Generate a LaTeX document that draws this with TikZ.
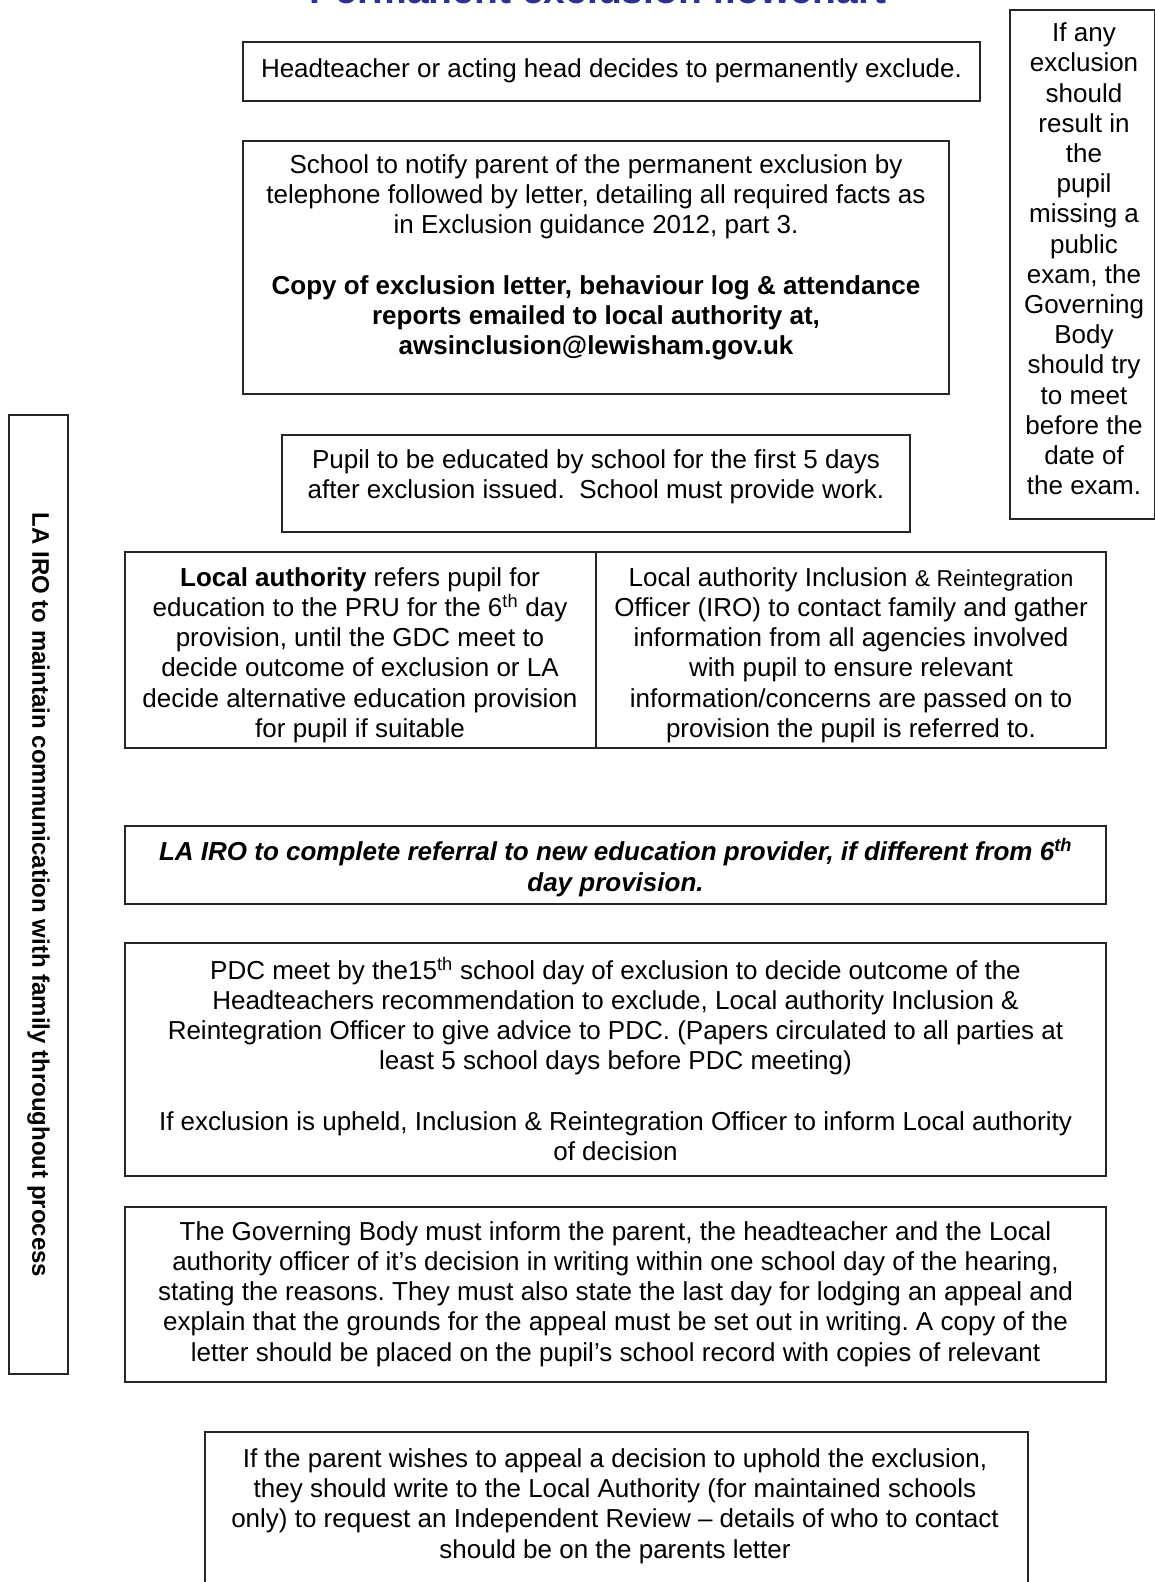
\documentclass[tikz,border=0pt]{standalone}
\usepackage{fontspec}
\setmainfont{Liberation Sans}
\usepackage{xcolor}
\usepackage{tikz}
\usetikzlibrary{positioning}

\definecolor{titleblue}{RGB}{46,49,146}
\newcommand{\bodysize}{\fontsize{26}{30.2}\selectfont}
\frenchspacing

\begin{document}
\begin{tikzpicture}[x=1pt, y=-1pt, inner sep=0pt,
  box/.style={draw=black!85, line width=1.5pt, outer sep=0pt, rectangle},
  txt/.style={align=center, font=\bodysize}]

\useasboundingbox (0,0) rectangle (1155,1582);
\fill[white] (0,0) rectangle (1155,1582);
\clip (0,0) rectangle (1155,1582);

\node[font=\fontsize{39}{44}\selectfont\bfseries, text=titleblue, anchor=base] (title) at (598,4) {Permanent exclusion flowchart};

\node[box, minimum width=737pt, minimum height=59pt] (head) at (611.5,71.5) {};
\node[box, minimum width=706pt, minimum height=253pt] (notify) at (596,267.5) {};
\node[box, minimum width=145pt, minimum height=509pt] (exam) at (1082.5,264.5) {};
\node[box, minimum width=59pt, minimum height=959pt] (comm) at (38.5,894.5) {};
\node[box, minimum width=628pt, minimum height=97pt] (educ) at (596,483.5) {};
\node[box, minimum width=471pt, minimum height=196pt] (laref) at (360.5,650) {};
\node[box, minimum width=510pt, minimum height=196pt] (iro) [right=0pt of laref] {};
\node[box, minimum width=981pt, minimum height=78pt] (refer) at (615.5,865) {};
\node[box, minimum width=981pt, minimum height=233pt] (pdc) at (615.5,1059.5) {};
\node[box, minimum width=981pt, minimum height=175pt] (gov) at (615.5,1294.5) {};
\node[box, minimum width=823pt, minimum height=200pt] (appeal) at (616.5,1532) {};

\node[txt] (headtxt) at (611.5,71) {Headteacher or acting head decides to permanently exclude.};

\node[txt] (notifytxt) at (596,257.5) {School to notify parent of the permanent exclusion by\\
telephone followed by letter, detailing all required facts as\\
in Exclusion guidance 2012, part 3.\\[30.2pt]
\bfseries Copy of exclusion letter, behaviour log \& attendance\\
\bfseries reports emailed to local authority at,\\
\bfseries awsinclusion@lewisham.gov.uk};

\node[txt] (examtxt) at (1084,259) {If any\\exclusion\\should\\result in\\the\\pupil\\missing a\\public\\exam, the\\Governing\\Body\\should try\\to meet\\before the\\date of\\the exam.};

\node[txt, font=\fontsize{24}{28}\selectfont\bfseries, rotate=-90] (commtxt) at (38.5,895) {LA IRO to maintain communication with family throughout process};

\node[txt] (eductxt) at (596,477) {Pupil to be educated by school for the first 5 days\\
after exclusion issued.\ \ School must provide work.};

\node[txt] (lareftxt) at (360,655) {{\bfseries Local authority} refers pupil for\\
education to the PRU for the 6\textsuperscript{th} day\\
provision, until the GDC meet to\\
decide outcome of exclusion or LA\\
decide alternative education provision\\
for pupil if suitable};

\node[txt] (irotxt) at (851,655) {Local authority Inclusion {\fontsize{23}{30.2}\selectfont\& Reintegration}\\
Officer (IRO) to contact family and gather\\
information from all agencies involved\\
with pupil to ensure relevant\\
information/concerns are passed on to\\
provision the pupil is referred to.};

\node[txt, font=\bodysize\bfseries\itshape] (refertxt) at (615.5,867.5) {LA IRO to complete referral to new education provider, if different from 6\textsuperscript{th}\\
day provision.};

\node[txt] (pdctxt) at (615.5,1059) {PDC meet by the15\textsuperscript{th} school day of exclusion to decide outcome of the\\
Headteachers recommendation to exclude, Local authority Inclusion \&\\
Reintegration Officer to give advice to PDC. (Papers circulated to all parties at\\
least 5 school days before PDC meeting)\\[30.2pt]
If exclusion is upheld, Inclusion \& Reintegration Officer to inform Local authority\\
of decision};

\node[txt] (govtxt) at (615.5,1294) {The Governing Body must inform the parent, the headteacher and the Local\\
authority officer of it’s decision in writing within one school day of the hearing,\\
stating the reasons. They must also state the last day for lodging an appeal and\\
explain that the grounds for the appeal must be set out in writing. A copy of the\\
letter should be placed on the pupil’s school record with copies of relevant};

\node[txt] (appealtxt) at (615,1506) {If the parent wishes to appeal a decision to uphold the exclusion,\\
they should write to the Local Authority (for maintained schools\\
only) to request an Independent Review – details of who to contact\\
should be on the parents letter};

\end{tikzpicture}
\end{document}
